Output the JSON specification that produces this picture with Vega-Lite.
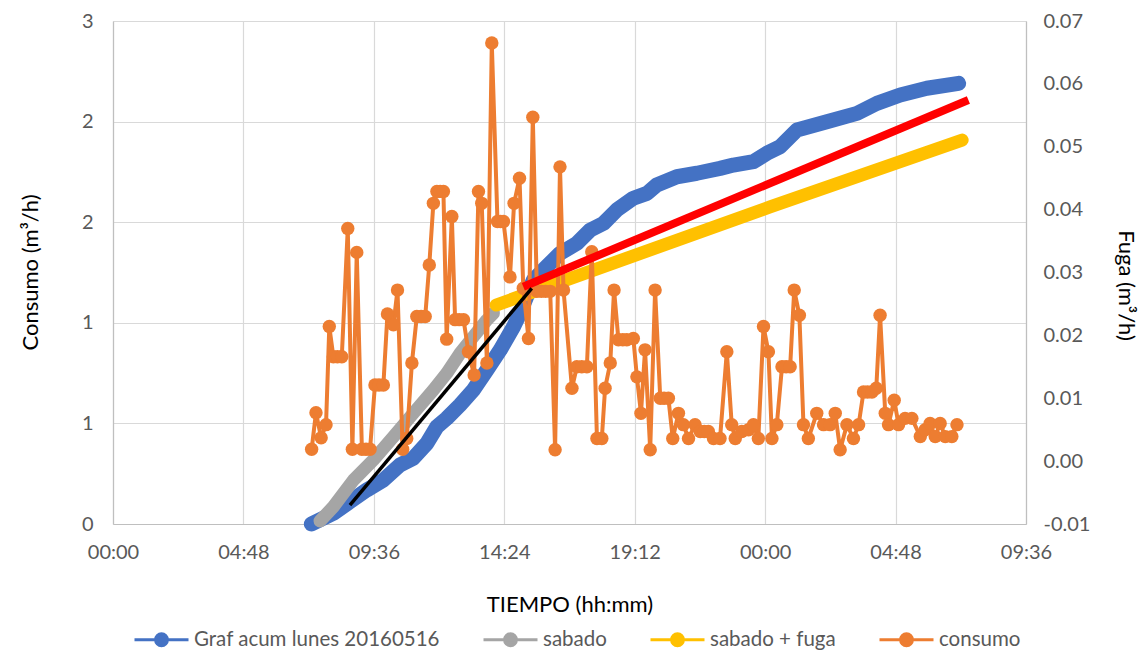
{
"$schema": "https://vega.github.io/schema/vega-lite/v6.json",
"width": 913, "height": 503,
"autosize": {"type": "none"},
"padding": {"left": 113, "top": 21, "right": 120, "bottom": 130},
"background": "white",
"config": {
  "font": "Lato",
  "view": {"stroke": null},
  "axis": {"labelFont": "Lato", "titleFont": "Lato", "labelFontSize": 20, "titleFontSize": 22, "labelColor": "#595959", "titleColor": "#000000", "titleFontWeight": "normal", "gridColor": "#D9D9D9", "gridWidth": 1.2, "domainColor": "#BFBFBF", "domainWidth": 1.2, "ticks": false}
},
"data": {"values": [
{"serie":"Graf acum lunes 20160516","hora":7.30,"valor":0.0},
{"serie":"Graf acum lunes 20160516","hora":8.11,"valor":0.064},
{"serie":"Graf acum lunes 20160516","hora":8.72,"valor":0.133},
{"serie":"Graf acum lunes 20160516","hora":9.34,"valor":0.203},
{"serie":"Graf acum lunes 20160516","hora":9.95,"valor":0.262},
{"serie":"Graf acum lunes 20160516","hora":10.56,"valor":0.352},
{"serie":"Graf acum lunes 20160516","hora":11.05,"valor":0.392},
{"serie":"Graf acum lunes 20160516","hora":11.55,"valor":0.481},
{"serie":"Graf acum lunes 20160516","hora":11.92,"valor":0.580},
{"serie":"Graf acum lunes 20160516","hora":12.28,"valor":0.630},
{"serie":"Graf acum lunes 20160516","hora":12.77,"valor":0.710},
{"serie":"Graf acum lunes 20160516","hora":13.26,"valor":0.799},
{"serie":"Graf acum lunes 20160516","hora":13.76,"valor":0.918},
{"serie":"Graf acum lunes 20160516","hora":14.25,"valor":1.038},
{"serie":"Graf acum lunes 20160516","hora":14.74,"valor":1.177},
{"serie":"Graf acum lunes 20160516","hora":14.98,"valor":1.257},
{"serie":"Graf acum lunes 20160516","hora":15.47,"valor":1.455},
{"serie":"Graf acum lunes 20160516","hora":15.96,"valor":1.535},
{"serie":"Graf acum lunes 20160516","hora":16.45,"valor":1.614},
{"serie":"Graf acum lunes 20160516","hora":17.07,"valor":1.674},
{"serie":"Graf acum lunes 20160516","hora":17.56,"valor":1.753},
{"serie":"Graf acum lunes 20160516","hora":18.05,"valor":1.793},
{"serie":"Graf acum lunes 20160516","hora":18.54,"valor":1.873},
{"serie":"Graf acum lunes 20160516","hora":19.15,"valor":1.943},
{"serie":"Graf acum lunes 20160516","hora":19.65,"valor":1.972},
{"serie":"Graf acum lunes 20160516","hora":20.01,"valor":2.022},
{"serie":"Graf acum lunes 20160516","hora":20.75,"valor":2.071},
{"serie":"Graf acum lunes 20160516","hora":21.49,"valor":2.092},
{"serie":"Graf acum lunes 20160516","hora":22.34,"valor":2.121},
{"serie":"Graf acum lunes 20160516","hora":22.83,"valor":2.141},
{"serie":"Graf acum lunes 20160516","hora":23.57,"valor":2.161},
{"serie":"Graf acum lunes 20160516","hora":24.06,"valor":2.211},
{"serie":"Graf acum lunes 20160516","hora":24.55,"valor":2.250},
{"serie":"Graf acum lunes 20160516","hora":25.17,"valor":2.350},
{"serie":"Graf acum lunes 20160516","hora":26.27,"valor":2.399},
{"serie":"Graf acum lunes 20160516","hora":27.38,"valor":2.449},
{"serie":"Graf acum lunes 20160516","hora":28.11,"valor":2.509},
{"serie":"Graf acum lunes 20160516","hora":28.97,"valor":2.559},
{"serie":"Graf acum lunes 20160516","hora":29.95,"valor":2.599},
{"serie":"Graf acum lunes 20160516","hora":31.12,"valor":2.628},
{"serie":"sabado","hora":7.62,"valor":0.018},
{"serie":"sabado","hora":8.11,"valor":0.103},
{"serie":"sabado","hora":8.85,"valor":0.262},
{"serie":"sabado","hora":9.58,"valor":0.382},
{"serie":"sabado","hora":10.32,"valor":0.521},
{"serie":"sabado","hora":11.05,"valor":0.660},
{"serie":"sabado","hora":11.79,"valor":0.799},
{"serie":"sabado","hora":12.28,"valor":0.899},
{"serie":"sabado","hora":12.77,"valor":1.018},
{"serie":"sabado","hora":13.26,"valor":1.117},
{"serie":"sabado","hora":13.76,"valor":1.217},
{"serie":"sabado","hora":14.00,"valor":1.257},
{"serie":"sabado + fuga","hora":14.10,"valor":1.306},
{"serie":"sabado + fuga","hora":24.18,"valor":1.891},
{"serie":"sabado + fuga","hora":31.25,"valor":2.290},
{"serie":"ajuste","hora":15.10,"valor":1.415},
{"serie":"ajuste","hora":31.48,"valor":2.529},
{"serie":"tramo","hora":8.72,"valor":0.113},
{"serie":"tramo","hora":15.41,"valor":1.406},
{"serie":"consumo","hora":7.31,"valor":0.0019},
{"serie":"consumo","hora":7.47,"valor":0.0077},
{"serie":"consumo","hora":7.66,"valor":0.0037},
{"serie":"consumo","hora":7.84,"valor":0.0058},
{"serie":"consumo","hora":7.96,"valor":0.0214},
{"serie":"consumo","hora":8.11,"valor":0.0166},
{"serie":"consumo","hora":8.26,"valor":0.0166},
{"serie":"consumo","hora":8.42,"valor":0.0166},
{"serie":"consumo","hora":8.64,"valor":0.0370},
{"serie":"consumo","hora":8.81,"valor":0.0019},
{"serie":"consumo","hora":8.97,"valor":0.0332},
{"serie":"consumo","hora":9.16,"valor":0.0019},
{"serie":"consumo","hora":9.31,"valor":0.0019},
{"serie":"consumo","hora":9.46,"valor":0.0019},
{"serie":"consumo","hora":9.64,"valor":0.0121},
{"serie":"consumo","hora":9.79,"valor":0.0121},
{"serie":"consumo","hora":9.95,"valor":0.0121},
{"serie":"consumo","hora":10.10,"valor":0.0234},
{"serie":"consumo","hora":10.32,"valor":0.0217},
{"serie":"consumo","hora":10.47,"valor":0.0272},
{"serie":"consumo","hora":10.66,"valor":0.0019},
{"serie":"consumo","hora":10.81,"valor":0.0036},
{"serie":"consumo","hora":11.00,"valor":0.0156},
{"serie":"consumo","hora":11.18,"valor":0.0230},
{"serie":"consumo","hora":11.34,"valor":0.0230},
{"serie":"consumo","hora":11.49,"valor":0.0230},
{"serie":"consumo","hora":11.64,"valor":0.0312},
{"serie":"consumo","hora":11.79,"valor":0.0410},
{"serie":"consumo","hora":11.92,"valor":0.0429},
{"serie":"consumo","hora":12.04,"valor":0.0429},
{"serie":"consumo","hora":12.16,"valor":0.0429},
{"serie":"consumo","hora":12.28,"valor":0.0194},
{"serie":"consumo","hora":12.47,"valor":0.0389},
{"serie":"consumo","hora":12.59,"valor":0.0225},
{"serie":"consumo","hora":12.74,"valor":0.0225},
{"serie":"consumo","hora":12.90,"valor":0.0225},
{"serie":"consumo","hora":13.08,"valor":0.0174},
{"serie":"consumo","hora":13.29,"valor":0.0137},
{"serie":"consumo","hora":13.45,"valor":0.0429},
{"serie":"consumo","hora":13.57,"valor":0.0410},
{"serie":"consumo","hora":13.76,"valor":0.0156},
{"serie":"consumo","hora":13.94,"valor":0.0665},
{"serie":"consumo","hora":14.15,"valor":0.0381},
{"serie":"consumo","hora":14.26,"valor":0.0381},
{"serie":"consumo","hora":14.37,"valor":0.0381},
{"serie":"consumo","hora":14.61,"valor":0.0293},
{"serie":"consumo","hora":14.76,"valor":0.0410},
{"serie":"consumo","hora":14.96,"valor":0.0450},
{"serie":"consumo","hora":15.10,"valor":0.0275},
{"serie":"consumo","hora":15.29,"valor":0.0195},
{"serie":"consumo","hora":15.45,"valor":0.0547},
{"serie":"consumo","hora":15.60,"valor":0.0270},
{"serie":"consumo","hora":15.76,"valor":0.0270},
{"serie":"consumo","hora":15.92,"valor":0.0270},
{"serie":"consumo","hora":16.09,"valor":0.0270},
{"serie":"consumo","hora":16.27,"valor":0.0018},
{"serie":"consumo","hora":16.45,"valor":0.0468},
{"serie":"consumo","hora":16.58,"valor":0.0272},
{"serie":"consumo","hora":16.89,"valor":0.0116},
{"serie":"consumo","hora":17.07,"valor":0.0150},
{"serie":"consumo","hora":17.25,"valor":0.0150},
{"serie":"consumo","hora":17.44,"valor":0.0150},
{"serie":"consumo","hora":17.62,"valor":0.0333},
{"serie":"consumo","hora":17.81,"valor":0.0036},
{"serie":"consumo","hora":17.99,"valor":0.0036},
{"serie":"consumo","hora":18.11,"valor":0.0116},
{"serie":"consumo","hora":18.30,"valor":0.0156},
{"serie":"consumo","hora":18.44,"valor":0.0272},
{"serie":"consumo","hora":18.60,"valor":0.0193},
{"serie":"consumo","hora":18.76,"valor":0.0193},
{"serie":"consumo","hora":18.91,"valor":0.0193},
{"serie":"consumo","hora":19.15,"valor":0.0195},
{"serie":"consumo","hora":19.28,"valor":0.0134},
{"serie":"consumo","hora":19.43,"valor":0.0076},
{"serie":"consumo","hora":19.58,"valor":0.0177},
{"serie":"consumo","hora":19.77,"valor":0.0018},
{"serie":"consumo","hora":19.95,"valor":0.0272},
{"serie":"consumo","hora":20.14,"valor":0.0100},
{"serie":"consumo","hora":20.28,"valor":0.0100},
{"serie":"consumo","hora":20.44,"valor":0.0100},
{"serie":"consumo","hora":20.60,"valor":0.0036},
{"serie":"consumo","hora":20.81,"valor":0.0076},
{"serie":"consumo","hora":20.99,"valor":0.0058},
{"serie":"consumo","hora":21.18,"valor":0.0036},
{"serie":"consumo","hora":21.42,"valor":0.0058},
{"serie":"consumo","hora":21.61,"valor":0.0047},
{"serie":"consumo","hora":21.76,"valor":0.0047},
{"serie":"consumo","hora":21.91,"valor":0.0047},
{"serie":"consumo","hora":22.10,"valor":0.0036},
{"serie":"consumo","hora":22.34,"valor":0.0036},
{"serie":"consumo","hora":22.59,"valor":0.0174},
{"serie":"consumo","hora":22.77,"valor":0.0058},
{"serie":"consumo","hora":22.90,"valor":0.0036},
{"serie":"consumo","hora":23.14,"valor":0.0047},
{"serie":"consumo","hora":23.39,"valor":0.0050},
{"serie":"consumo","hora":23.57,"valor":0.0058},
{"serie":"consumo","hora":23.75,"valor":0.0036},
{"serie":"consumo","hora":23.94,"valor":0.0214},
{"serie":"consumo","hora":24.12,"valor":0.0174},
{"serie":"consumo","hora":24.25,"valor":0.0036},
{"serie":"consumo","hora":24.43,"valor":0.0058},
{"serie":"consumo","hora":24.62,"valor":0.0150},
{"serie":"consumo","hora":24.77,"valor":0.0150},
{"serie":"consumo","hora":24.92,"valor":0.0150},
{"serie":"consumo","hora":25.07,"valor":0.0272},
{"serie":"consumo","hora":25.26,"valor":0.0232},
{"serie":"consumo","hora":25.41,"valor":0.0058},
{"serie":"consumo","hora":25.59,"valor":0.0036},
{"serie":"consumo","hora":25.90,"valor":0.0076},
{"serie":"consumo","hora":26.15,"valor":0.0058},
{"serie":"consumo","hora":26.39,"valor":0.0058},
{"serie":"consumo","hora":26.58,"valor":0.0076},
{"serie":"consumo","hora":26.76,"valor":0.0018},
{"serie":"consumo","hora":27.01,"valor":0.0058},
{"serie":"consumo","hora":27.25,"valor":0.0036},
{"serie":"consumo","hora":27.44,"valor":0.0058},
{"serie":"consumo","hora":27.62,"valor":0.0110},
{"serie":"consumo","hora":27.77,"valor":0.0110},
{"serie":"consumo","hora":27.93,"valor":0.0110},
{"serie":"consumo","hora":28.09,"valor":0.0116},
{"serie":"consumo","hora":28.23,"valor":0.0232},
{"serie":"consumo","hora":28.42,"valor":0.0076},
{"serie":"consumo","hora":28.54,"valor":0.0058},
{"serie":"consumo","hora":28.75,"valor":0.0097},
{"serie":"consumo","hora":28.91,"valor":0.0058},
{"serie":"consumo","hora":29.15,"valor":0.0068},
{"serie":"consumo","hora":29.40,"valor":0.0068},
{"serie":"consumo","hora":29.71,"valor":0.0039},
{"serie":"consumo","hora":29.89,"valor":0.0050},
{"serie":"consumo","hora":30.07,"valor":0.0060},
{"serie":"consumo","hora":30.26,"valor":0.0039},
{"serie":"consumo","hora":30.44,"valor":0.0060},
{"serie":"consumo","hora":30.63,"valor":0.0039},
{"serie":"consumo","hora":30.87,"valor":0.0039},
{"serie":"consumo","hora":31.06,"valor":0.0058}
]},
"encoding": {
  "x": {"field": "hora", "type": "quantitative",
    "scale": {"domain": [0, 33.6], "nice": false, "zero": false},
    "axis": {"values": [0, 4.8, 9.6, 14.4, 19.2, 24, 28.8, 33.6],
      "labelExpr": "pad(floor(datum.value % 24), 2, '0', 'left') + ':' + pad(round((datum.value % 1) * 60), 2, '0', 'left')",
      "grid": true, "labelFlush": false, "labelOverlap": false, "labelPadding": 18,
      "title": "TIEMPO (hh:mm)", "titleY": 80, "titleBaseline": "middle"}},
  "color": {"field": "serie", "type": "nominal",
    "scale": {"domain": ["Graf acum lunes 20160516", "sabado", "sabado + fuga", "consumo"], "range": ["#4472C4", "#A5A5A5", "#FFC000", "#ED7D31"]},
    "legend": {"orient": "none", "legendX": 20, "legendY": 590, "direction": "horizontal", "columns": 4, "title": null,
      "symbolType": "M-1,0L1,0M-0.22,0A0.22,0.22,0,1,1,0.22,0A0.22,0.22,0,1,1,-0.22,0Z", "symbolSize": 2916, "symbolStrokeWidth": 3,
      "labelFont": "Lato", "labelFontSize": 20.5, "labelColor": "#595959", "labelOffset": 4, "labelLimit": 400, "columnPadding": 37, "padding": 0,
      "encode": {"symbols": {"update": {
        "fill": {"scale": "color", "field": "value"},
        "stroke": {"scale": "color", "field": "value"},
        "strokeWidth": {"value": 3},
        "opacity": {"value": 1}}}}}}
},
"layer": [
  {
    "encoding": {
      "y": {"field": "valor", "type": "quantitative",
        "scale": {"domain": [0, 3], "nice": false, "zero": false},
        "axis": {"orient": "left", "values": [0, 0.6, 1.2, 1.8, 2.4, 3], "labelExpr": "format(datum.value, '.0f')",
          "grid": true, "domain": true, "labelPadding": 20,
          "title": "Consumo (m³/h)", "titleX": -83, "titleY": 251, "titleAngle": 270, "titleAlign": "center", "titleBaseline": "middle"}}
    },
    "layer": [
      {"transform": [{"filter": "datum.serie == 'Graf acum lunes 20160516'"}],
       "mark": {"type": "line", "strokeWidth": 15, "strokeCap": "round", "strokeJoin": "round"}},
      {"transform": [{"filter": "datum.serie == 'sabado'"}],
       "mark": {"type": "line", "strokeWidth": 13, "strokeCap": "round", "strokeJoin": "round"}},
      {"transform": [{"filter": "datum.serie == 'sabado + fuga'"}],
       "mark": {"type": "line", "strokeWidth": 13, "strokeCap": "round", "strokeJoin": "round"}}
    ]
  },
  {
    "transform": [{"filter": "datum.serie == 'consumo'"}],
    "encoding": {
      "y": {"field": "valor", "type": "quantitative",
        "scale": {"domain": [-0.01, 0.07], "nice": false, "zero": false},
        "axis": {"orient": "right", "values": [-0.01, 0, 0.01, 0.02, 0.03, 0.04, 0.05, 0.06, 0.07],
          "labelExpr": "datum.value < 0 ? '-' + format(-datum.value, '.2f') : format(datum.value, '.2f')",
          "grid": false, "domain": true, "labelPadding": 17,
          "title": "Fuga (m³/h)", "titleX": 99, "titleY": 264, "titleAngle": 90, "titleAlign": "center", "titleBaseline": "middle"}}
    },
    "layer": [
      {"mark": {"type": "line", "strokeWidth": 4, "strokeJoin": "round"}},
      {"mark": {"type": "point", "filled": true, "size": 180, "opacity": 1}}
    ]
  },
  {
    "encoding": {
      "y": {"field": "valor", "type": "quantitative",
        "scale": {"domain": [0, 3], "nice": false, "zero": false}, "axis": null}
    },
    "layer": [
      {"transform": [{"filter": "datum.serie == 'ajuste'"}],
       "mark": {"type": "line", "strokeWidth": 8, "strokeCap": "butt"},
       "encoding": {"color": {"value": "#FF0000"}}},
      {"transform": [{"filter": "datum.serie == 'tramo'"}],
       "mark": {"type": "line", "strokeWidth": 3.5, "strokeCap": "butt"},
       "encoding": {"color": {"value": "#000000"}}}
    ]
  }
],
"resolve": {"scale": {"y": "independent"}}
}
